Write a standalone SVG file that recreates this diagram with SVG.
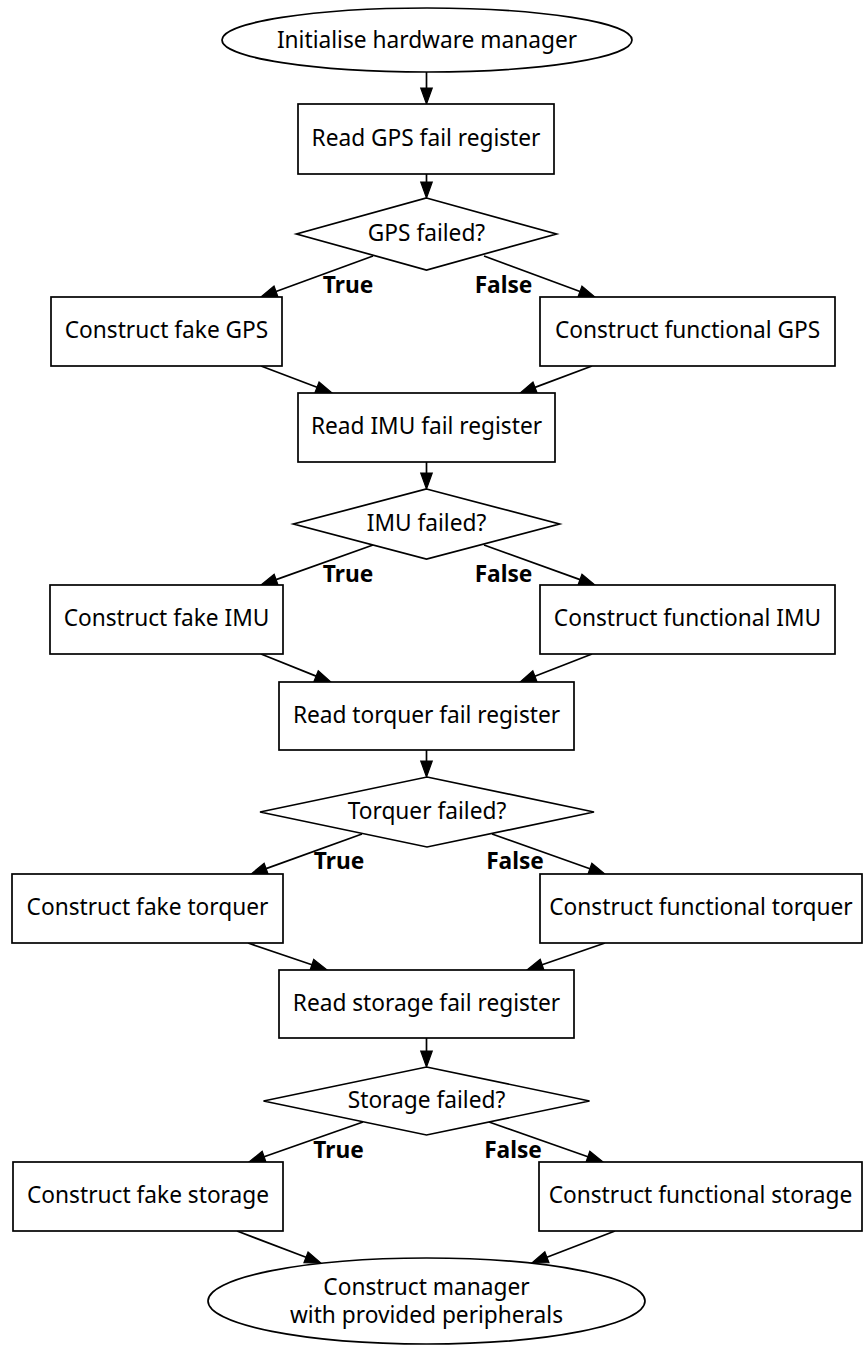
<svg xmlns="http://www.w3.org/2000/svg" width="864" height="1345" viewBox="0 0 864 1345">
  <defs>
    <style>
      .shape { fill: #ffffff; stroke: #000000; stroke-width: 1.7; }
      .lbl { font-family: "Noto Sans", "Open Sans", "DejaVu Sans", sans-serif; font-size: 22.7px; fill: #000000; text-anchor: middle; }
      .elbl { font-family: "Noto Sans", "Open Sans", "DejaVu Sans", sans-serif; font-size: 22.7px; font-weight: bold; fill: #000000; text-anchor: middle; }
      .edge { fill: none; stroke: #000000; stroke-width: 1.7; marker-end: url(#head); }
    </style>
    <!-- arrowhead drawn beyond the end of each edge path -->
    <marker id="head" markerUnits="userSpaceOnUse" markerWidth="18" markerHeight="13" refX="0" refY="5.75" orient="auto" overflow="visible">
      <path d="M0,0 L16,5.75 L0,11.5 Z" fill="#000000" stroke="#000000" stroke-width="1.2"/>
    </marker>
  </defs>
  <rect width="864" height="1345" fill="#ffffff"/>

  <!-- connectors -->
  <g id="edges">
    <path class="edge" d="M426.5,72 L426.5,88"/>
    <path class="edge" d="M426.5,174 L426.5,182"/>
    <path class="edge" d="M373,256 L276,291.5"/>
    <path class="edge" d="M484,256 L580,291.5"/>
    <path class="edge" d="M261,366 L317,387.3"/>
    <path class="edge" d="M592,366 L535,387.4"/>
    <path class="edge" d="M426.5,462 L426.5,473"/>
    <path class="edge" d="M373,545 L276.1,579.6"/>
    <path class="edge" d="M484,545 L580,579.6"/>
    <path class="edge" d="M261,654 L316.1,676.1"/>
    <path class="edge" d="M592,654 L534.9,676.2"/>
    <path class="edge" d="M426.5,750 L426.5,761"/>
    <path class="edge" d="M362,834 L266.1,868.6"/>
    <path class="edge" d="M492,834 L589.9,868.7"/>
    <path class="edge" d="M248,943 L311.9,964.8"/>
    <path class="edge" d="M605,943 L542.1,964.8"/>
    <path class="edge" d="M426.5,1038 L426.5,1051"/>
    <path class="edge" d="M363,1122 L264.1,1156.7"/>
    <path class="edge" d="M489,1122 L587.9,1156.7"/>
    <path class="edge" d="M237,1231 L306,1257.3"/>
    <path class="edge" d="M615,1231 L546.9,1257.2"/>
    <text class="elbl" x="348" y="293">True</text>
    <text class="elbl" x="503.5" y="293">False</text>
    <text class="elbl" x="348" y="582">True</text>
    <text class="elbl" x="503.5" y="582">False</text>
    <text class="elbl" x="339" y="869">True</text>
    <text class="elbl" x="515" y="869">False</text>
    <text class="elbl" x="338.5" y="1158">True</text>
    <text class="elbl" x="513" y="1158">False</text>
  </g>

  <g id="start">
    <ellipse class="shape" cx="427" cy="40" rx="205" ry="32"/>
    <text class="lbl" x="427" y="48">Initialise hardware manager</text>
  </g>

  <g id="read_gps">
    <rect class="shape" x="298" y="104" width="256" height="70"/>
    <text class="lbl" x="426" y="146">Read GPS fail register</text>
  </g>
  <g id="gps_failed">
    <polygon class="shape" points="426.5,198 556.5,234 426.5,270 296.5,234"/>
    <text class="lbl" x="426.5" y="241">GPS failed?</text>
  </g>
  <g id="fake_gps">
    <rect class="shape" x="51" y="297" width="231" height="69"/>
    <text class="lbl" x="166.5" y="338">Construct fake GPS</text>
  </g>
  <g id="functional_gps">
    <rect class="shape" x="540" y="297" width="295" height="69"/>
    <text class="lbl" x="687.5" y="338">Construct functional GPS</text>
  </g>

  <g id="read_imu">
    <rect class="shape" x="298" y="393" width="257" height="69"/>
    <text class="lbl" x="426.5" y="434">Read IMU fail register</text>
  </g>
  <g id="imu_failed">
    <polygon class="shape" points="426.5,489 559.5,524 426.5,559 293.5,524"/>
    <text class="lbl" x="426.5" y="531">IMU failed?</text>
  </g>
  <g id="fake_imu">
    <rect class="shape" x="50" y="585" width="233" height="69"/>
    <text class="lbl" x="166.5" y="626">Construct fake IMU</text>
  </g>
  <g id="functional_imu">
    <rect class="shape" x="540" y="585" width="295" height="69"/>
    <text class="lbl" x="687.5" y="626">Construct functional IMU</text>
  </g>

  <g id="read_torquer">
    <rect class="shape" x="279" y="682" width="295" height="68"/>
    <text class="lbl" x="426.5" y="723">Read torquer fail register</text>
  </g>
  <g id="torquer_failed">
    <polygon class="shape" points="427,777 594,812 427,847 260,812"/>
    <text class="lbl" x="427" y="819">Torquer failed?</text>
  </g>
  <g id="fake_torquer">
    <rect class="shape" x="12" y="874" width="271" height="69"/>
    <text class="lbl" x="147.5" y="915">Construct fake torquer</text>
  </g>
  <g id="functional_torquer">
    <rect class="shape" x="540" y="874" width="322" height="69"/>
    <text class="lbl" x="701" y="915">Construct functional torquer</text>
  </g>

  <g id="read_storage">
    <rect class="shape" x="279" y="970" width="295" height="68"/>
    <text class="lbl" x="426.5" y="1011">Read storage fail register</text>
  </g>
  <g id="storage_failed">
    <polygon class="shape" points="426.5,1067 589.5,1101 426.5,1135 263.5,1101"/>
    <text class="lbl" x="426.5" y="1108">Storage failed?</text>
  </g>
  <g id="fake_storage">
    <rect class="shape" x="13" y="1162" width="270" height="69"/>
    <text class="lbl" x="148" y="1203">Construct fake storage</text>
  </g>
  <g id="functional_storage">
    <rect class="shape" x="539" y="1162" width="323" height="69"/>
    <text class="lbl" x="700.5" y="1203">Construct functional storage</text>
  </g>

  <g id="end">
    <ellipse class="shape" cx="426.5" cy="1301" rx="218.5" ry="43"/>
    <text class="lbl" x="426.5" y="1295">Construct manager</text>
    <text class="lbl" x="426.5" y="1323">with provided peripherals</text>
  </g>
</svg>
